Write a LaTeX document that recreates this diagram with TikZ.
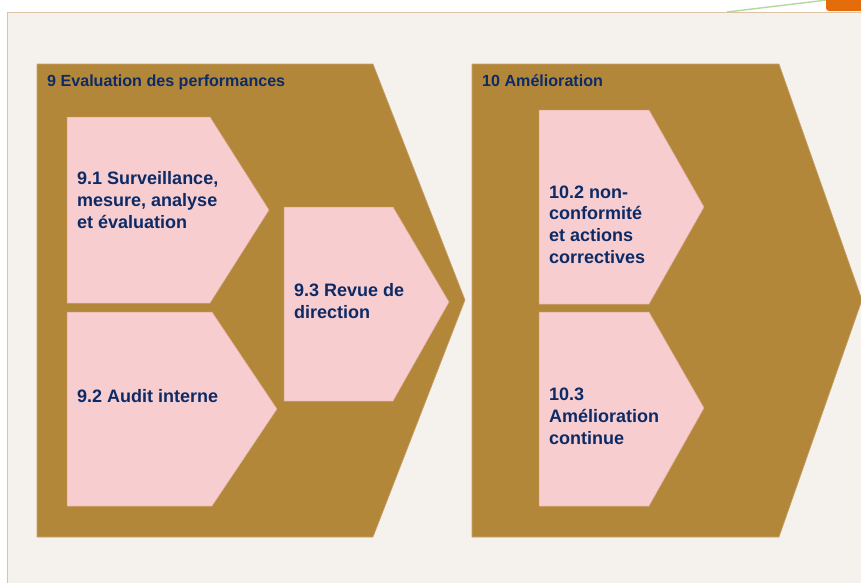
\documentclass[tikz,border=0pt]{standalone}
\usepackage{fontspec}
\setmainfont{Liberation Sans}
\definecolor{carte}{HTML}{F5F2ED}
\definecolor{cartebord}{HTML}{DDC3A3}
\definecolor{or}{HTML}{B3873A}
\definecolor{orbord}{HTML}{C9A26E}
\definecolor{rose}{HTML}{F7CDD0}
\definecolor{rosebord}{HTML}{D9AD90}
\definecolor{marine}{HTML}{0C2B66}
\definecolor{vert}{HTML}{B5D99A}
\definecolor{orange}{HTML}{E46C0A}
\tikzset{
  fleche/.style={fill=or,draw=orbord,line width=0.6pt},
  etape/.style={fill=rose,draw=rosebord,line width=0.5pt},
  titre/.style={text=marine,font=\bfseries\fontsize{16.1}{19}\selectfont,anchor=base west,inner sep=0pt},
  texte/.style={text=marine,font=\bfseries\fontsize{18}{21.6}\selectfont,align=left,anchor=base west,inner sep=0pt}
}
\begin{document}
\begin{tikzpicture}[x=1pt,y=-1pt]
\useasboundingbox (0,0) rectangle (861,582);
% fond
\fill[white] (0,0) rectangle (861,582);
\draw[fill=carte,draw=cartebord,line width=1pt] (7,12) -- (870,12) -- (870,600) -- (7,600) -- cycle;
\coordinate (v1) at (727,12);
\coordinate (v2) at (827,0);
\draw[vert,line width=1.4pt] (v1) -- (v2);
\fill[orange,rounded corners=3pt] (826,-5) -- (826,11) -- (870,11) -- (870,-5) -- cycle;
% chapitres
\draw[fleche] (37,64) -- (373,64) -- (465,300) -- (373,537) -- (37,537) -- cycle;
\draw[fleche] (472,64) -- (779,64) -- (862,300) -- (779,537) -- (472,537) -- cycle;
\node[titre] (c9) at (47,86) {9 Evaluation des performances};
\node[titre] (c10) at (482,86) {10 Amélioration};
% etapes (base = derniere ligne)
\draw[etape] (67,117) -- (210,117) -- (269,210) -- (210,303) -- (67,303) -- cycle;
\draw[etape] (67,312) -- (212,312) -- (277,409) -- (212,506) -- (67,506) -- cycle;
\draw[etape] (284,207) -- (393,207) -- (449,302) -- (393,401) -- (284,401) -- cycle;
\draw[etape] (539,110) -- (649,110) -- (704,207) -- (649,304) -- (539,304) -- cycle;
\draw[etape] (539,312) -- (649,312) -- (704,408) -- (649,506) -- (539,506) -- cycle;
\node[texte] (e91) at (77,228) {9.1 Surveillance,\\mesure, analyse\\et évaluation};
\node[texte] (e92) at (77,402) {9.2 Audit interne};
\node[texte] (e93) at (294,318) {9.3 Revue de\\direction};
\node[texte] (e102) at (549,263) {10.2 non-\\conformité\\et actions\\correctives};
\node[texte] (e103) at (549,444) {10.3\\Amélioration\\continue};
\end{tikzpicture}
\end{document}
